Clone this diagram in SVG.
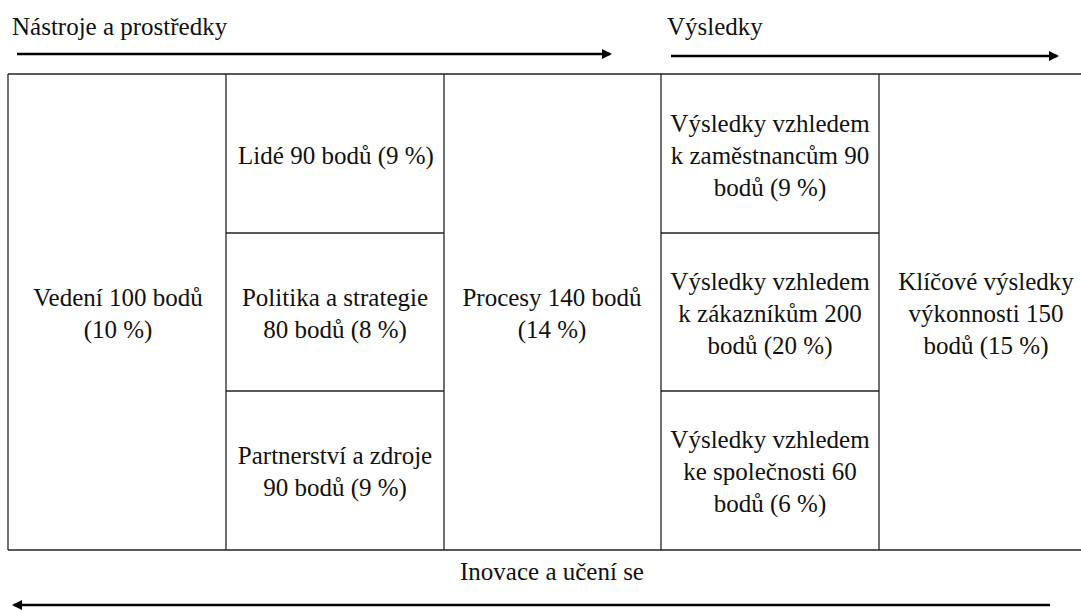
<svg xmlns="http://www.w3.org/2000/svg" width="1081" height="610" viewBox="0 0 1081 610">
<style>
text{font-family:"Liberation Serif","Times New Roman",serif;font-size:25px;fill:#111}
.c{text-anchor:middle}
.ln{stroke:#222;stroke-width:1.3;fill:none}
.ar{stroke:#000;stroke-width:2.5;fill:none}
</style>
<defs>
<marker id="ah" markerWidth="10" markerHeight="10" refX="8" refY="5" orient="auto" markerUnits="userSpaceOnUse">
<path d="M0,0 L10,5 L0,10 Z" fill="#000"/>
</marker>
</defs>
<rect width="1081" height="610" fill="#fff"/>
<g id="headers">
<text x="12" y="35">Nástroje a prostředky</text>
<text x="667" y="35">Výsledky</text>
<text class="c" x="552" y="580">Inovace a učení se</text>
</g>
<g id="connectors">
<line class="ar" x1="17" y1="54" x2="610" y2="54" marker-end="url(#ah)"/>
<line class="ar" x1="671" y1="56" x2="1057" y2="56" marker-end="url(#ah)"/>
<line class="ar" x1="1050" y1="605" x2="14" y2="605" marker-end="url(#ah)"/>
</g>
<g id="grid">
<line class="ln" x1="8" y1="74" x2="1081" y2="74"/>
<line class="ln" x1="8" y1="550" x2="1081" y2="550" stroke-width="2"/>
<line class="ln" x1="8" y1="74" x2="8" y2="550"/>
<line class="ln" x1="226" y1="74" x2="226" y2="550"/>
<line class="ln" x1="444" y1="74" x2="444" y2="550"/>
<line class="ln" x1="661" y1="74" x2="661" y2="550"/>
<line class="ln" x1="879" y1="74" x2="879" y2="550"/>
<line class="ln" x1="226" y1="233" x2="444" y2="233"/>
<line class="ln" x1="226" y1="391" x2="444" y2="391"/>
<line class="ln" x1="661" y1="233" x2="879" y2="233"/>
<line class="ln" x1="661" y1="391" x2="879" y2="391"/>
</g>
<g id="vedeni"><text class="c" x="118" y="306">Vedení 100 bodů</text><text class="c" x="118" y="338">(10 %)</text></g>
<g id="lide"><text class="c" x="336" y="164">Lidé 90 bodů (9 %)</text></g>
<g id="politika"><text class="c" x="335" y="306">Politika a strategie</text><text class="c" x="335" y="338">80 bodů (8 %)</text></g>
<g id="partnerstvi"><text class="c" x="335" y="464">Partnerství a zdroje</text><text class="c" x="335" y="496">90 bodů (9 %)</text></g>
<g id="procesy"><text class="c" x="552" y="306">Procesy 140 bodů</text><text class="c" x="552" y="338">(14 %)</text></g>
<g id="zamestnanci"><text class="c" x="770" y="132">Výsledky vzhledem</text><text class="c" x="770" y="164">k zaměstnancům 90</text><text class="c" x="770" y="196">bodů (9 %)</text></g>
<g id="zakaznici"><text class="c" x="770" y="290">Výsledky vzhledem</text><text class="c" x="770" y="322">k zákazníkům 200</text><text class="c" x="770" y="354">bodů (20 %)</text></g>
<g id="spolecnost"><text class="c" x="770" y="448">Výsledky vzhledem</text><text class="c" x="770" y="480">ke společnosti 60</text><text class="c" x="770" y="512">bodů (6 %)</text></g>
<g id="klicove"><text class="c" x="986" y="290">Klíčové výsledky</text><text class="c" x="986" y="322">výkonnosti 150</text><text class="c" x="986" y="354">bodů (15 %)</text></g>
</svg>
